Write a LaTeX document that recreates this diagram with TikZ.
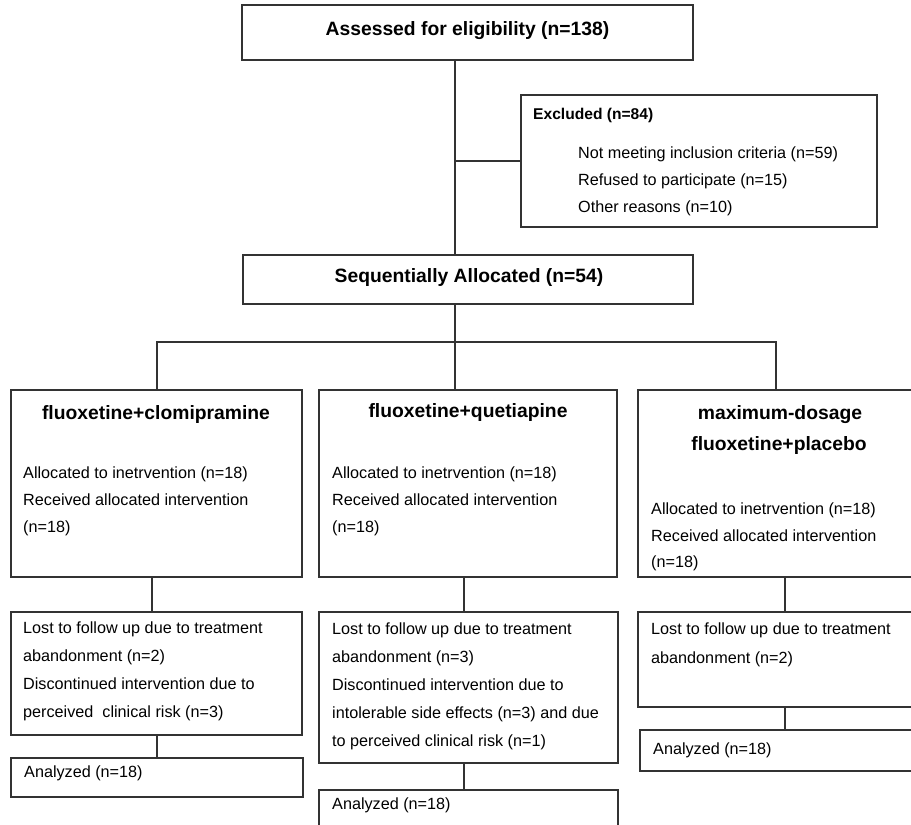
\documentclass[tikz,border=0pt]{standalone}
\usepackage{fontspec}
\setmainfont{Liberation Sans}
\begin{document}
\begin{tikzpicture}[x=1pt,y=-1pt]
\tikzset{
 box/.style={draw=black!80, line width=1.2pt, anchor=north west, inner sep=0pt, outer sep=0pt},
 ln/.style={draw=black!80, line width=1.2pt},
 hd/.style={font=\fontsize{19.3}{23}\selectfont\bfseries, anchor=base, inner sep=0pt},
 hs/.style={font=\fontsize{15.6}{19}\selectfont\bfseries, anchor=base west, inner sep=0pt},
 tx/.style={font=\fontsize{16.2}{20}\selectfont, anchor=base west, inner sep=0pt},
}
\clip (0,0) rectangle (911,825);
% boxes
\node[box, minimum width=451pt, minimum height=55pt] (assess) at (242,5) {};
\node[box, minimum width=356pt, minimum height=132pt] (excl) at (521,95) {};
\node[box, minimum width=450pt, minimum height=49pt] (alloc) at (243,255) {};
\node[box, minimum width=291pt, minimum height=187pt] (b1) at (11,390) {};
\node[box, minimum width=298pt, minimum height=187pt] (b2) at (319,390) {};
\node[box, minimum width=290pt, minimum height=187pt] (b3) at (638,390) {};
\node[box, minimum width=291pt, minimum height=123pt] (l1) at (11,612) {};
\node[box, minimum width=299pt, minimum height=151pt] (l2) at (319,612) {};
\node[box, minimum width=290pt, minimum height=95pt] (l3) at (638,612) {};
\node[box, minimum width=292pt, minimum height=39pt] (a1) at (11,758) {};
\node[box, minimum width=299pt, minimum height=50pt] (a2) at (319,790) {};
\node[box, minimum width=290pt, minimum height=41pt] (a3) at (640,730) {};
% texts
\node[hd] (t0) at (467.5,35) {Assessed for eligibility (n=138)};
\node[hs] (e0) at (533,119) {Excluded (n=84)};
\node[tx] (e1) at (578,158) {Not meeting inclusion criteria (n=59)};
\node[tx] (e2) at (578,185) {Refused to participate (n=15)};
\node[tx] (e3) at (578,212) {Other reasons (n=10)};
\node[hd] (t1) at (469,282) {Sequentially Allocated (n=54)};
\node[hd] (c1t) at (156,419) {fluoxetine+clomipramine};
\node[hd] (c2t) at (468,417) {fluoxetine+quetiapine};
\node[hd] (c3t) at (780,419) {maximum-dosage};
\node[hd] (c3u) at (779,450) {fluoxetine+placebo};
\node[tx] (c1a) at (23,478) {Allocated to inetrvention (n=18)};
\node[tx] (c1b) at (23,505) {Received allocated intervention};
\node[tx] (c1c) at (23,532) {(n=18)};
\node[tx] (c2a) at (332,478) {Allocated to inetrvention (n=18)};
\node[tx] (c2b) at (332,505) {Received allocated intervention};
\node[tx] (c2c) at (332,532) {(n=18)};
\node[tx] (c3a) at (651,514) {Allocated to inetrvention (n=18)};
\node[tx] (c3b) at (651,541) {Received allocated intervention};
\node[tx] (c3c) at (651,567) {(n=18)};
\node[tx] (l1a) at (23,633) {Lost to follow up due to treatment};
\node[tx] (l1b) at (23,661) {abandonment (n=2)};
\node[tx] (l1c) at (23,689) {Discontinued intervention due to};
\node[tx] (l1d) at (23,717) {perceived\ \ clinical risk (n=3)};
\node[tx] (l2a) at (332,634) {Lost to follow up due to treatment};
\node[tx] (l2b) at (332,662) {abandonment (n=3)};
\node[tx] (l2c) at (332,690) {Discontinued intervention due to};
\node[tx] (l2d) at (332,718) {intolerable side effects (n=3) and due};
\node[tx] (l2e) at (332,746) {to perceived clinical risk (n=1)};
\node[tx] (l3a) at (651,634) {Lost to follow up due to treatment};
\node[tx] (l3b) at (651,663) {abandonment (n=2)};
\node[tx] (a1t) at (24,777) {Analyzed (n=18)};
\node[tx] (a2t) at (332,809) {Analyzed (n=18)};
\node[tx] (a3t) at (653,754) {Analyzed (n=18)};
% connector coordinates
\coordinate (spine) at (455,0);
\coordinate (hb) at (0,342);
\coordinate (c1x) at (157,0);
\coordinate (c3x) at (776,0);
\coordinate (d1) at (152,0);
\coordinate (d1b) at (157,0);
\coordinate (d2) at (464,0);
\coordinate (d3) at (785,0);
% connectors
\draw[ln] (assess.south -| spine) -- (alloc.north -| spine);
\draw[ln] (spine |- excl.west) -- (excl.west);
\draw[ln] (alloc.south -| spine) -- (spine |- hb);
\draw[ln] (b1.north -| c1x) -- (c1x |- hb) -- (c3x |- hb) -- (b3.north -| c3x);
\draw[ln] (spine |- hb) -- (b2.north -| spine);
\draw[ln] (b1.south -| d1) -- (l1.north -| d1);
\draw[ln] (l1.south -| d1b) -- (a1.north -| d1b);
\draw[ln] (b2.south -| d2) -- (l2.north -| d2);
\draw[ln] (l2.south -| d2) -- (a2.north -| d2);
\draw[ln] (b3.south -| d3) -- (l3.north -| d3);
\draw[ln] (l3.south -| d3) -- (a3.north -| d3);
\end{tikzpicture}
\end{document}
